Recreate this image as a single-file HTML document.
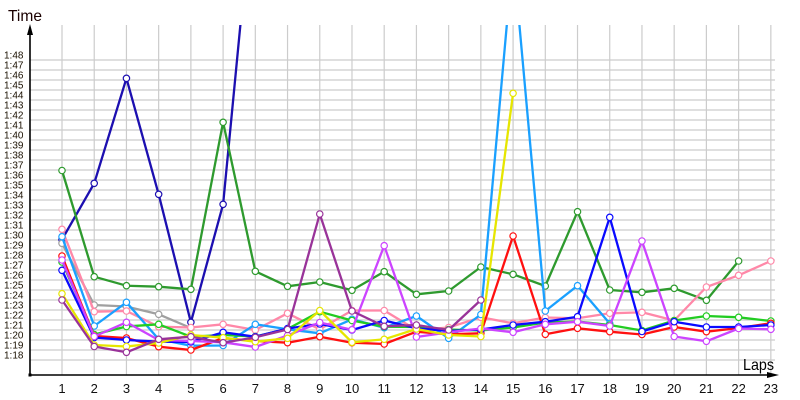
<!DOCTYPE html>
<html><head><meta charset="utf-8"><style>
html,body{margin:0;padding:0;background:#fff;}
svg{display:block;font-family:"Liberation Sans",sans-serif;}
</style></head><body>
<svg width="800" height="400" viewBox="0 0 800 400" xmlns="http://www.w3.org/2000/svg">
<defs>
<clipPath id="pc"><rect x="30" y="25" width="760" height="360"/></clipPath>
<marker id="m1" markerUnits="userSpaceOnUse" markerWidth="10" markerHeight="10" refX="5" refY="5" overflow="visible"><circle cx="5" cy="5" r="3.2" fill="#fff" stroke="#1c0fb0" stroke-width="1.2"/></marker>
<marker id="m2" markerUnits="userSpaceOnUse" markerWidth="10" markerHeight="10" refX="5" refY="5" overflow="visible"><circle cx="5" cy="5" r="3.2" fill="#fff" stroke="#2e9a2e" stroke-width="1.2"/></marker>
<marker id="m3" markerUnits="userSpaceOnUse" markerWidth="10" markerHeight="10" refX="5" refY="5" overflow="visible"><circle cx="5" cy="5" r="3.2" fill="#fff" stroke="#1aa0ff" stroke-width="1.2"/></marker>
<marker id="m4" markerUnits="userSpaceOnUse" markerWidth="10" markerHeight="10" refX="5" refY="5" overflow="visible"><circle cx="5" cy="5" r="3.2" fill="#fff" stroke="#ff88a8" stroke-width="1.2"/></marker>
<marker id="m5" markerUnits="userSpaceOnUse" markerWidth="10" markerHeight="10" refX="5" refY="5" overflow="visible"><circle cx="5" cy="5" r="3.2" fill="#fff" stroke="#a0a0a0" stroke-width="1.2"/></marker>
<marker id="m6" markerUnits="userSpaceOnUse" markerWidth="10" markerHeight="10" refX="5" refY="5" overflow="visible"><circle cx="5" cy="5" r="3.2" fill="#fff" stroke="#ff1010" stroke-width="1.2"/></marker>
<marker id="m7" markerUnits="userSpaceOnUse" markerWidth="10" markerHeight="10" refX="5" refY="5" overflow="visible"><circle cx="5" cy="5" r="3.2" fill="#fff" stroke="#cc44ff" stroke-width="1.2"/></marker>
<marker id="m8" markerUnits="userSpaceOnUse" markerWidth="10" markerHeight="10" refX="5" refY="5" overflow="visible"><circle cx="5" cy="5" r="3.2" fill="#fff" stroke="#22cc22" stroke-width="1.2"/></marker>
<marker id="m9" markerUnits="userSpaceOnUse" markerWidth="10" markerHeight="10" refX="5" refY="5" overflow="visible"><circle cx="5" cy="5" r="3.2" fill="#fff" stroke="#0a0aff" stroke-width="1.2"/></marker>
<marker id="m10" markerUnits="userSpaceOnUse" markerWidth="10" markerHeight="10" refX="5" refY="5" overflow="visible"><circle cx="5" cy="5" r="3.2" fill="#fff" stroke="#e6e600" stroke-width="1.2"/></marker>
<marker id="m11" markerUnits="userSpaceOnUse" markerWidth="10" markerHeight="10" refX="5" refY="5" overflow="visible"><circle cx="5" cy="5" r="3.2" fill="#fff" stroke="#993399" stroke-width="1.2"/></marker>
</defs>

<!-- grid -->
<g stroke="#cccccc" stroke-width="1.2" fill="none">
<path d="M30 60H775M30 70H775M30 80H775M30 90H775M30 100H775M30 110H775M30 120H775M30 130H775M30 140H775M30 150H775M30 160H775M30 170H775M30 180H775M30 190H775M30 200H775M30 210H775M30 220H775M30 230H775M30 240H775M30 250H775M30 260H775M30 270H775M30 280H775M30 290H775M30 300H775M30 310H775M30 320H775M30 330H775M30 340H775M30 350H775M30 360H775"/>
<path d="M62 25V375M94.22 25V375M126.44 25V375M158.66 25V375M190.88 25V375M223.1 25V375M255.32 25V375M287.54 25V375M319.76 25V375M351.98 25V375M384.2 25V375M416.42 25V375M448.64 25V375M480.86 25V375M513.08 25V375M545.3 25V375M577.52 25V375M609.74 25V375M641.96 25V375M674.18 25V375M706.4 25V375M738.62 25V375M770.84 25V375"/>
</g>

<!-- y labels -->
<g font-size="10" fill="#1a1000">
<text x="4" y="58.6">1:48</text><text x="4" y="68.6">1:47</text><text x="4" y="78.6">1:46</text><text x="4" y="88.6">1:45</text><text x="4" y="98.6">1:44</text><text x="4" y="108.6">1:43</text><text x="4" y="118.6">1:42</text><text x="4" y="128.6">1:41</text><text x="4" y="138.6">1:40</text><text x="4" y="148.6">1:39</text><text x="4" y="158.6">1:38</text><text x="4" y="168.6">1:37</text><text x="4" y="178.6">1:36</text><text x="4" y="188.6">1:35</text><text x="4" y="198.6">1:34</text><text x="4" y="208.6">1:33</text><text x="4" y="218.6">1:32</text><text x="4" y="228.6">1:31</text><text x="4" y="238.6">1:30</text><text x="4" y="248.6">1:29</text><text x="4" y="258.6">1:28</text><text x="4" y="268.6">1:27</text><text x="4" y="278.6">1:26</text><text x="4" y="288.6">1:25</text><text x="4" y="298.6">1:24</text><text x="4" y="308.6">1:23</text><text x="4" y="318.6">1:22</text><text x="4" y="328.6">1:21</text><text x="4" y="338.6">1:20</text><text x="4" y="348.6">1:19</text><text x="4" y="358.6">1:18</text>
</g>

<!-- x labels -->
<g font-size="13" fill="#101010" text-anchor="middle">
<text x="62" y="393">1</text><text x="94.22" y="393">2</text><text x="126.44" y="393">3</text><text x="158.66" y="393">4</text><text x="190.88" y="393">5</text><text x="223.1" y="393">6</text><text x="255.32" y="393">7</text><text x="287.54" y="393">8</text><text x="319.76" y="393">9</text><text x="351.98" y="393">10</text><text x="384.2" y="393">11</text><text x="416.42" y="393">12</text><text x="448.64" y="393">13</text><text x="480.86" y="393">14</text><text x="513.08" y="393">15</text><text x="545.3" y="393">16</text><text x="577.52" y="393">17</text><text x="609.74" y="393">18</text><text x="641.96" y="393">19</text><text x="674.18" y="393">20</text><text x="706.4" y="393">21</text><text x="738.62" y="393">22</text><text x="770.84" y="393">23</text>
</g>

<!-- titles -->
<text x="8" y="21" font-size="16" fill="#1a0000" textLength="34" lengthAdjust="spacingAndGlyphs">Time</text>
<text x="743" y="370" font-size="16" fill="#000" textLength="31" lengthAdjust="spacingAndGlyphs">Laps</text>

<!-- series -->
<g clip-path="url(#pc)" fill="none" stroke-width="2.3" stroke-linejoin="round">
<polyline stroke="#1c0fb0" marker-start="url(#m1)" marker-mid="url(#m1)" marker-end="url(#m1)" points="62,239.5 94.22,183.3 126.44,78.3 158.66,194.3 190.88,322.3 223.1,204.3 255.32,-130"/>
<polyline stroke="#2e9a2e" marker-start="url(#m2)" marker-mid="url(#m2)" marker-end="url(#m2)" points="62,170.5 94.22,276.7 126.44,285.7 158.66,286.7 190.88,289.3 223.1,122.3 255.32,271.3 287.54,286.3 319.76,282 351.98,290.3 384.2,271.7 416.42,294.3 448.64,291 480.86,267 513.08,274.3 545.3,286 577.52,211.7 609.74,290 641.96,292.3 674.18,288.3 706.4,300.3 738.62,261"/>
<polyline stroke="#a0a0a0" marker-start="url(#m5)" marker-mid="url(#m5)" marker-end="url(#m5)" points="62,243.3 94.22,305 126.44,306.5 158.66,314.3 190.88,328"/>
<polyline stroke="#ff88a8" marker-start="url(#m4)" marker-mid="url(#m4)" marker-end="url(#m4)" points="62,229.3 94.22,311.7 126.44,311 158.66,326.7 190.88,327.5 223.1,324.3 255.32,330 287.54,313.3 319.76,329.3 351.98,310.5 384.2,310.5 416.42,330 448.64,327.5 480.86,317.3 513.08,323.3 545.3,317.5 577.52,318.3 609.74,313.3 641.96,312.3 674.18,320.5 706.4,287 738.62,275.3 770.84,261"/>
<polyline stroke="#1aa0ff" marker-start="url(#m3)" marker-mid="url(#m3)" marker-end="url(#m3)" points="62,236.7 94.22,326 126.44,302.3 158.66,339.3 190.88,345.7 223.1,345.5 255.32,324.3 287.54,329.3 319.76,333.3 351.98,319.3 384.2,327.7 416.42,316 448.64,338.3 480.86,314.5 513.08,-45 545.3,311 577.52,285.7 609.74,323.5"/>
<polyline stroke="#22cc22" marker-start="url(#m8)" marker-mid="url(#m8)" marker-end="url(#m8)" points="62,262 94.22,334.5 126.44,326.5 158.66,324.3 190.88,336.7 223.1,335 255.32,336.5 287.54,329 319.76,311.7 351.98,320.5 384.2,326.7 416.42,327 448.64,329.5 480.86,330.5 513.08,327.5 545.3,322.5 577.52,321.5 609.74,325 641.96,330.5 674.18,320.5 706.4,316 738.62,317.3 770.84,321"/>
<polyline stroke="#ff1010" marker-start="url(#m6)" marker-mid="url(#m6)" marker-end="url(#m6)" points="62,256 94.22,336 126.44,338 158.66,346.7 190.88,350 223.1,338 255.32,341 287.54,342.7 319.76,336.7 351.98,342.7 384.2,344 416.42,331.7 448.64,334.3 480.86,333.3 513.08,236 545.3,334.3 577.52,328.3 609.74,331.7 641.96,334.5 674.18,327 706.4,331.7 738.62,328 770.84,323.3"/>
<polyline stroke="#0a0aff" marker-start="url(#m9)" marker-mid="url(#m9)" marker-end="url(#m9)" points="62,270.3 94.22,337.5 126.44,340 158.66,341.7 190.88,342 223.1,332.3 255.32,336.7 287.54,328.5 319.76,324 351.98,330 384.2,320.5 416.42,328.3 448.64,331 480.86,329.5 513.08,325 545.3,321.7 577.52,316.7 609.74,217.3 641.96,331.5 674.18,321.7 706.4,327 738.62,327 770.84,325"/>
<polyline stroke="#cc44ff" marker-start="url(#m7)" marker-mid="url(#m7)" marker-end="url(#m7)" points="62,260 94.22,336.5 126.44,322.3 158.66,340 190.88,341 223.1,342.3 255.32,347 287.54,335.5 319.76,322.5 351.98,329.7 384.2,245.7 416.42,337 448.64,332.3 480.86,328.5 513.08,332.3 545.3,324.3 577.52,321.7 609.74,326 641.96,241 674.18,336.5 706.4,341.3 738.62,328.5 770.84,329.3"/>
<polyline stroke="#e6e600" marker-start="url(#m10)" marker-mid="url(#m10)" marker-end="url(#m10)" points="62,293.7 94.22,345 126.44,346.5 158.66,343 190.88,335 223.1,337.7 255.32,341.7 287.54,338.3 319.76,310.5 351.98,342.3 384.2,339.3 416.42,329 448.64,335 480.86,336.5 513.08,93.3"/>
<polyline stroke="#993399" marker-start="url(#m11)" marker-mid="url(#m11)" marker-end="url(#m11)" points="62,300 94.22,346.5 126.44,352.3 158.66,339.3 190.88,336.7 223.1,342.7 255.32,337.3 287.54,329.5 319.76,214 351.98,311 384.2,326.3 416.42,325 448.64,330 480.86,300"/>
</g>

<!-- axes -->
<g stroke="#000" stroke-width="1.6" fill="none">
<line x1="30" y1="33" x2="30" y2="375"/>
<line x1="30" y1="375" x2="770" y2="375"/>
</g>
<polygon points="30,24 27,35 33,35" fill="#000"/>
<polygon points="779,375 767,372 767,378" fill="#000"/>
<rect x="28.5" y="373.5" width="3" height="3" fill="#000"/>
</svg>
</body></html>
